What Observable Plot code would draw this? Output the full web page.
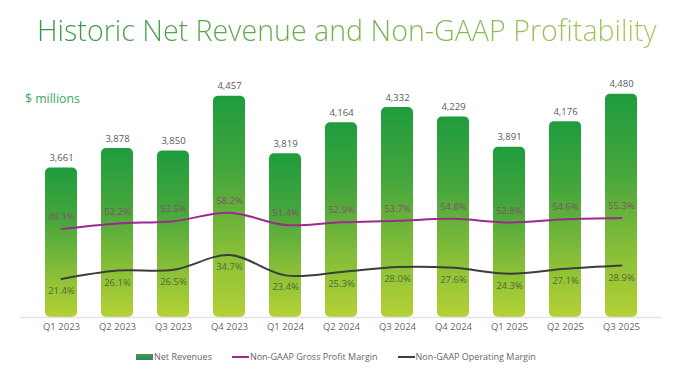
<!DOCTYPE html>
<html>
<head>
<meta charset="utf-8">
<script src="https://cdn.jsdelivr.net/npm/d3@7"></script>
<script src="https://cdn.jsdelivr.net/npm/@observablehq/plot@0.6"></script>
<style>
  html, body { margin: 0; padding: 0; background: #fff; }
  body { width: 680px; height: 383px; position: relative; overflow: hidden; font-family: "Open Sans", "Noto Sans", sans-serif; }
  #title {
    height: 45px; box-sizing: border-box; padding: 14px 0 0 37px;
    font-size: 28.6px; line-height: 31px; font-weight: 300; white-space: nowrap;
  }
  #title span {
    background: linear-gradient(90deg, #34974a 0%, #6cae4a 45%, #a9c95a 100%);
    -webkit-background-clip: text; background-clip: text; color: transparent;
  }
  #units { position: absolute; left: 25px; top: 90px; font-size: 12.3px; color: #3aa857; }
  #legend { position: absolute; left: 136px; top: 350px; display: flex; align-items: center; font-size: 9px; color: #666; }
  #legend .item { display: flex; align-items: center; margin-right: 20px; }
  #legend .sw { width: 17px; margin-right: 1px; }
</style>
</head>
<body>
<div id="title"><span>Historic Net Revenue and Non-GAAP Profitability</span></div>
<div id="units">$ millions</div>
<div id="chart"></div>
<div id="legend">
  <div class="item"><div class="sw" style="height:6px;background:linear-gradient(180deg,#3f9d4d,#2f7f74);"></div>Net Revenues</div>
  <div class="item"><div class="sw" style="height:2px;background:#9b2a8e;"></div>Non-GAAP Gross Profit Margin</div>
  <div class="item"><div class="sw" style="height:2px;background:#3d3d3d;"></div>Non-GAAP Operating Margin</div>
</div>
<script>
const quarters = ["Q1 2023","Q2 2023","Q3 2023","Q4 2023","Q1 2024","Q2 2024","Q3 2024","Q4 2024","Q1 2025","Q2 2025","Q3 2025"];
const revenue = [3661,3878,3850,4457,3819,4164,4332,4229,3891,4176,4480];
const grossMargin = [49.1,52.2,53.5,58.2,51.4,52.9,53.7,54.8,52.8,54.6,55.3];
const opMargin = [21.4,26.1,26.5,34.7,23.4,25.3,28.0,27.6,24.3,27.1,28.9];

// secondary (percent) axis expressed in revenue-scale units: 0% at the axis floor, 20 units per point
const yFloor = 2000;
const pctUnit = 20;
const pctToY = p => yFloor + p * pctUnit;

const rows = quarters.map((q, i) => ({
  q, rev: revenue[i], gross: grossMargin[i], op: opMargin[i],
  grossY: pctToY(grossMargin[i]), opY: pctToY(opMargin[i])
}));

const defs = () => {
  const g = d3.create("svg:defs");
  const lg = g.append("linearGradient").attr("id", "barGrad").attr("x1", 0).attr("y1", 0).attr("x2", 0).attr("y2", 1);
  lg.append("stop").attr("offset", "0%").attr("stop-color", "#1f9c3e");
  lg.append("stop").attr("offset", "35%").attr("stop-color", "#45a63c");
  lg.append("stop").attr("offset", "70%").attr("stop-color", "#86be38");
  lg.append("stop").attr("offset", "100%").attr("stop-color", "#b4d134");
  return g.node();
};

const plot = Plot.plot({
  width: 680,
  height: 300,
  marginLeft: 20,
  marginRight: 18,
  marginTop: 20,
  marginBottom: 28,
  style: { fontFamily: "'Open Sans', 'Noto Sans', sans-serif", background: "transparent" },
  x: { domain: quarters, padding: 0.43, label: null },
  y: { domain: [yFloor, 4800], axis: null },
  marks: [
    defs,
    Plot.barY(rows, { x: "q", y1: yFloor, y2: "rev", fill: "url(#barGrad)", r: 5, ry2: 0 }),
    Plot.ruleY([yFloor], { stroke: "#e4e4e4", strokeWidth: 1.5 }),
    Plot.text(rows, { x: "q", y: "rev", text: d => d3.format(",")(d.rev), dy: -10, fill: "#5a5a5a", fontSize: 9.5 }),
    Plot.line(rows, { x: "q", y: "grossY", stroke: "#9b2a8e", strokeWidth: 2, curve: "catmull-rom" }),
    Plot.line(rows, { x: "q", y: "opY", stroke: "#3d3d3d", strokeWidth: 2, curve: "catmull-rom" }),
    Plot.text(rows, { x: "q", y: "grossY", text: d => d.gross.toFixed(1) + "%", dy: -12, fill: "#80506a", fontSize: 9.5 }),
    Plot.text(rows, { x: "q", y: "opY", text: d => d.op.toFixed(1) + "%", dy: 12, fill: "#4f6a35", fontSize: 9.5 }),
    Plot.axisX({ tickSize: 0, tickPadding: 6, fontSize: 9.5, fill: "#666", label: null })
  ]
});
document.getElementById("chart").append(plot);
</script>
</body>
</html>
